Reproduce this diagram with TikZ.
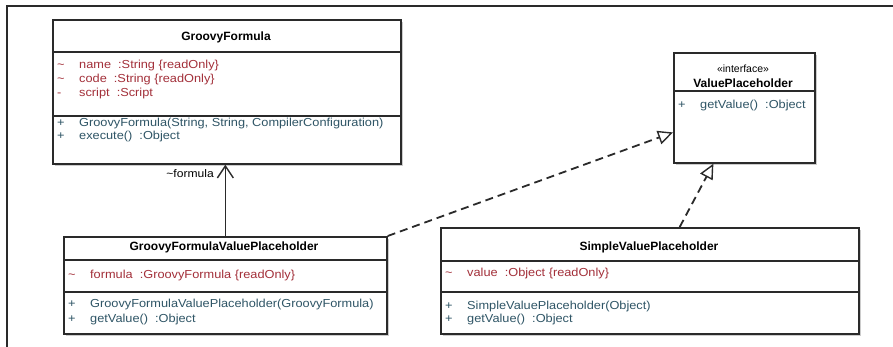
\documentclass[tikz,border=0pt]{standalone}
\usepackage{fontspec}
\setmainfont{Liberation Sans}
\newfontfamily\umlfont[FakeStretch=1.1]{Liberation Sans}
\usetikzlibrary{arrows.meta,shadows,calc}

\definecolor{attrred}{HTML}{A3303A}
\definecolor{methblue}{HTML}{2F5566}
\definecolor{boxline}{HTML}{2A2A2A}

\tikzset{
	classbox/.style={draw=boxline, line width=1.7pt, fill=white, anchor=north west, inner sep=0pt,
		drop shadow={shadow xshift=2.5pt, shadow yshift=-2.5pt, opacity=0.4, fill=gray}},
	sepline/.style={draw=boxline, line width=1.6pt},
	classname/.style={inner sep=0pt, font=\fontsize{12}{14}\selectfont\bfseries},
	attr/.style={anchor=west, inner sep=0pt, text=attrred, font=\umlfont\fontsize{11.6}{14}\selectfont},
	meth/.style={attr, text=methblue},
	realize/.style={draw=boxline, line width=1.8pt, dash pattern=on 8pt off 5pt,
		-{Triangle[open, length=15pt, width=14pt, fill=white, line width=1.4pt]}},
	assoc/.style={draw=boxline, line width=1.5pt, -{Straight Barb[length=12pt, width=16pt, line width=1.4pt]}}
}
\newcommand{\vis}[1]{\makebox[22pt][l]{#1}}

\begin{document}
\begin{tikzpicture}[x=1pt,y=-1pt]
	\useasboundingbox (0,0) rectangle (893,347);
	\draw[line width=1.8pt, draw=boxline] (893,6) -- (7,6) -- (7,347);

	\node[classbox, minimum width=348pt, minimum height=144pt] (gf) at (52,19) {};
	\draw[sepline] ($(gf.north west)+(0,33)$) -- ($(gf.north east)+(0,33)$);
	\draw[sepline] ($(gf.north west)+(0,97)$) -- ($(gf.north east)+(0,97)$);
	\node[classname] (gftitle) at (226,37) {GroovyFormula};
	\node[attr] (gfname) at (57,66) {\vis{\textasciitilde}name\ \ :String \{readOnly\}};
	\node[attr] (gfcode) at (57,80) {\vis{\textasciitilde}code\ \ :String \{readOnly\}};
	\node[attr] (gfscript) at (57,94) {\vis{-}script\ \ :Script};
	\node[meth] (gfctor) at (57,124) {\vis{+}GroovyFormula(String, String, CompilerConfiguration)};
	\node[meth] (gfexec) at (57,137) {\vis{+}execute()\ \ :Object};

	\node[classbox, minimum width=141pt, minimum height=110pt] (vp) at (673,52) {};
	\draw[sepline] ($(vp.north west)+(0,39)$) -- ($(vp.north east)+(0,39)$);
	\node[inner sep=0pt, font=\fontsize{10.5}{12}\selectfont] (vpstereo) at (743,69) {«interface»};
	\node[classname] (vptitle) at (743,83) {ValuePlaceholder};
	\node[meth] (vpget) at (678,106) {\vis{+}getValue()\ \ :Object};

	\node[classbox, minimum width=323pt, minimum height=97pt] (gfvp) at (63,236) {};
	\draw[sepline] ($(gfvp.north west)+(0,24)$) -- ($(gfvp.north east)+(0,24)$);
	\draw[sepline] ($(gfvp.north west)+(0,56)$) -- ($(gfvp.north east)+(0,56)$);
	\node[classname] (gfvptitle) at (224,247) {GroovyFormulaValuePlaceholder};
	\node[attr] (gfvpformula) at (68,276) {\vis{\textasciitilde}formula\ \ :GroovyFormula \{readOnly\}};
	\node[meth] (gfvpctor) at (68,305) {\vis{+}GroovyFormulaValuePlaceholder(GroovyFormula)};
	\node[meth] (gfvpget) at (68,319) {\vis{+}getValue()\ \ :Object};

	\node[classbox, minimum width=418pt, minimum height=106pt] (svp) at (440,227) {};
	\draw[sepline] ($(svp.north west)+(0,34)$) -- ($(svp.north east)+(0,34)$);
	\draw[sepline] ($(svp.north west)+(0,65)$) -- ($(svp.north east)+(0,65)$);
	\node[classname] (svptitle) at (649,247) {SimpleValuePlaceholder};
	\node[attr] (svpvalue) at (445,273) {\vis{\textasciitilde}value\ \ :Object \{readOnly\}};
	\node[meth] (svpctor) at (445,306) {\vis{+}SimpleValuePlaceholder(Object)};
	\node[meth] (svpget) at (445,319) {\vis{+}getValue()\ \ :Object};

	\draw[assoc] (gfvp.north) -- (gf.south -| gfvp.north);
	\node[anchor=east, inner sep=0pt, font=\umlfont\fontsize{11}{13}\selectfont] (gfrole) at (214,174) {\textasciitilde formula};

	\draw[realize] (gfvp.north east) -- (vp.199);
	\draw[realize] (svp.61) -- (vp.241);
\end{tikzpicture}
\end{document}
